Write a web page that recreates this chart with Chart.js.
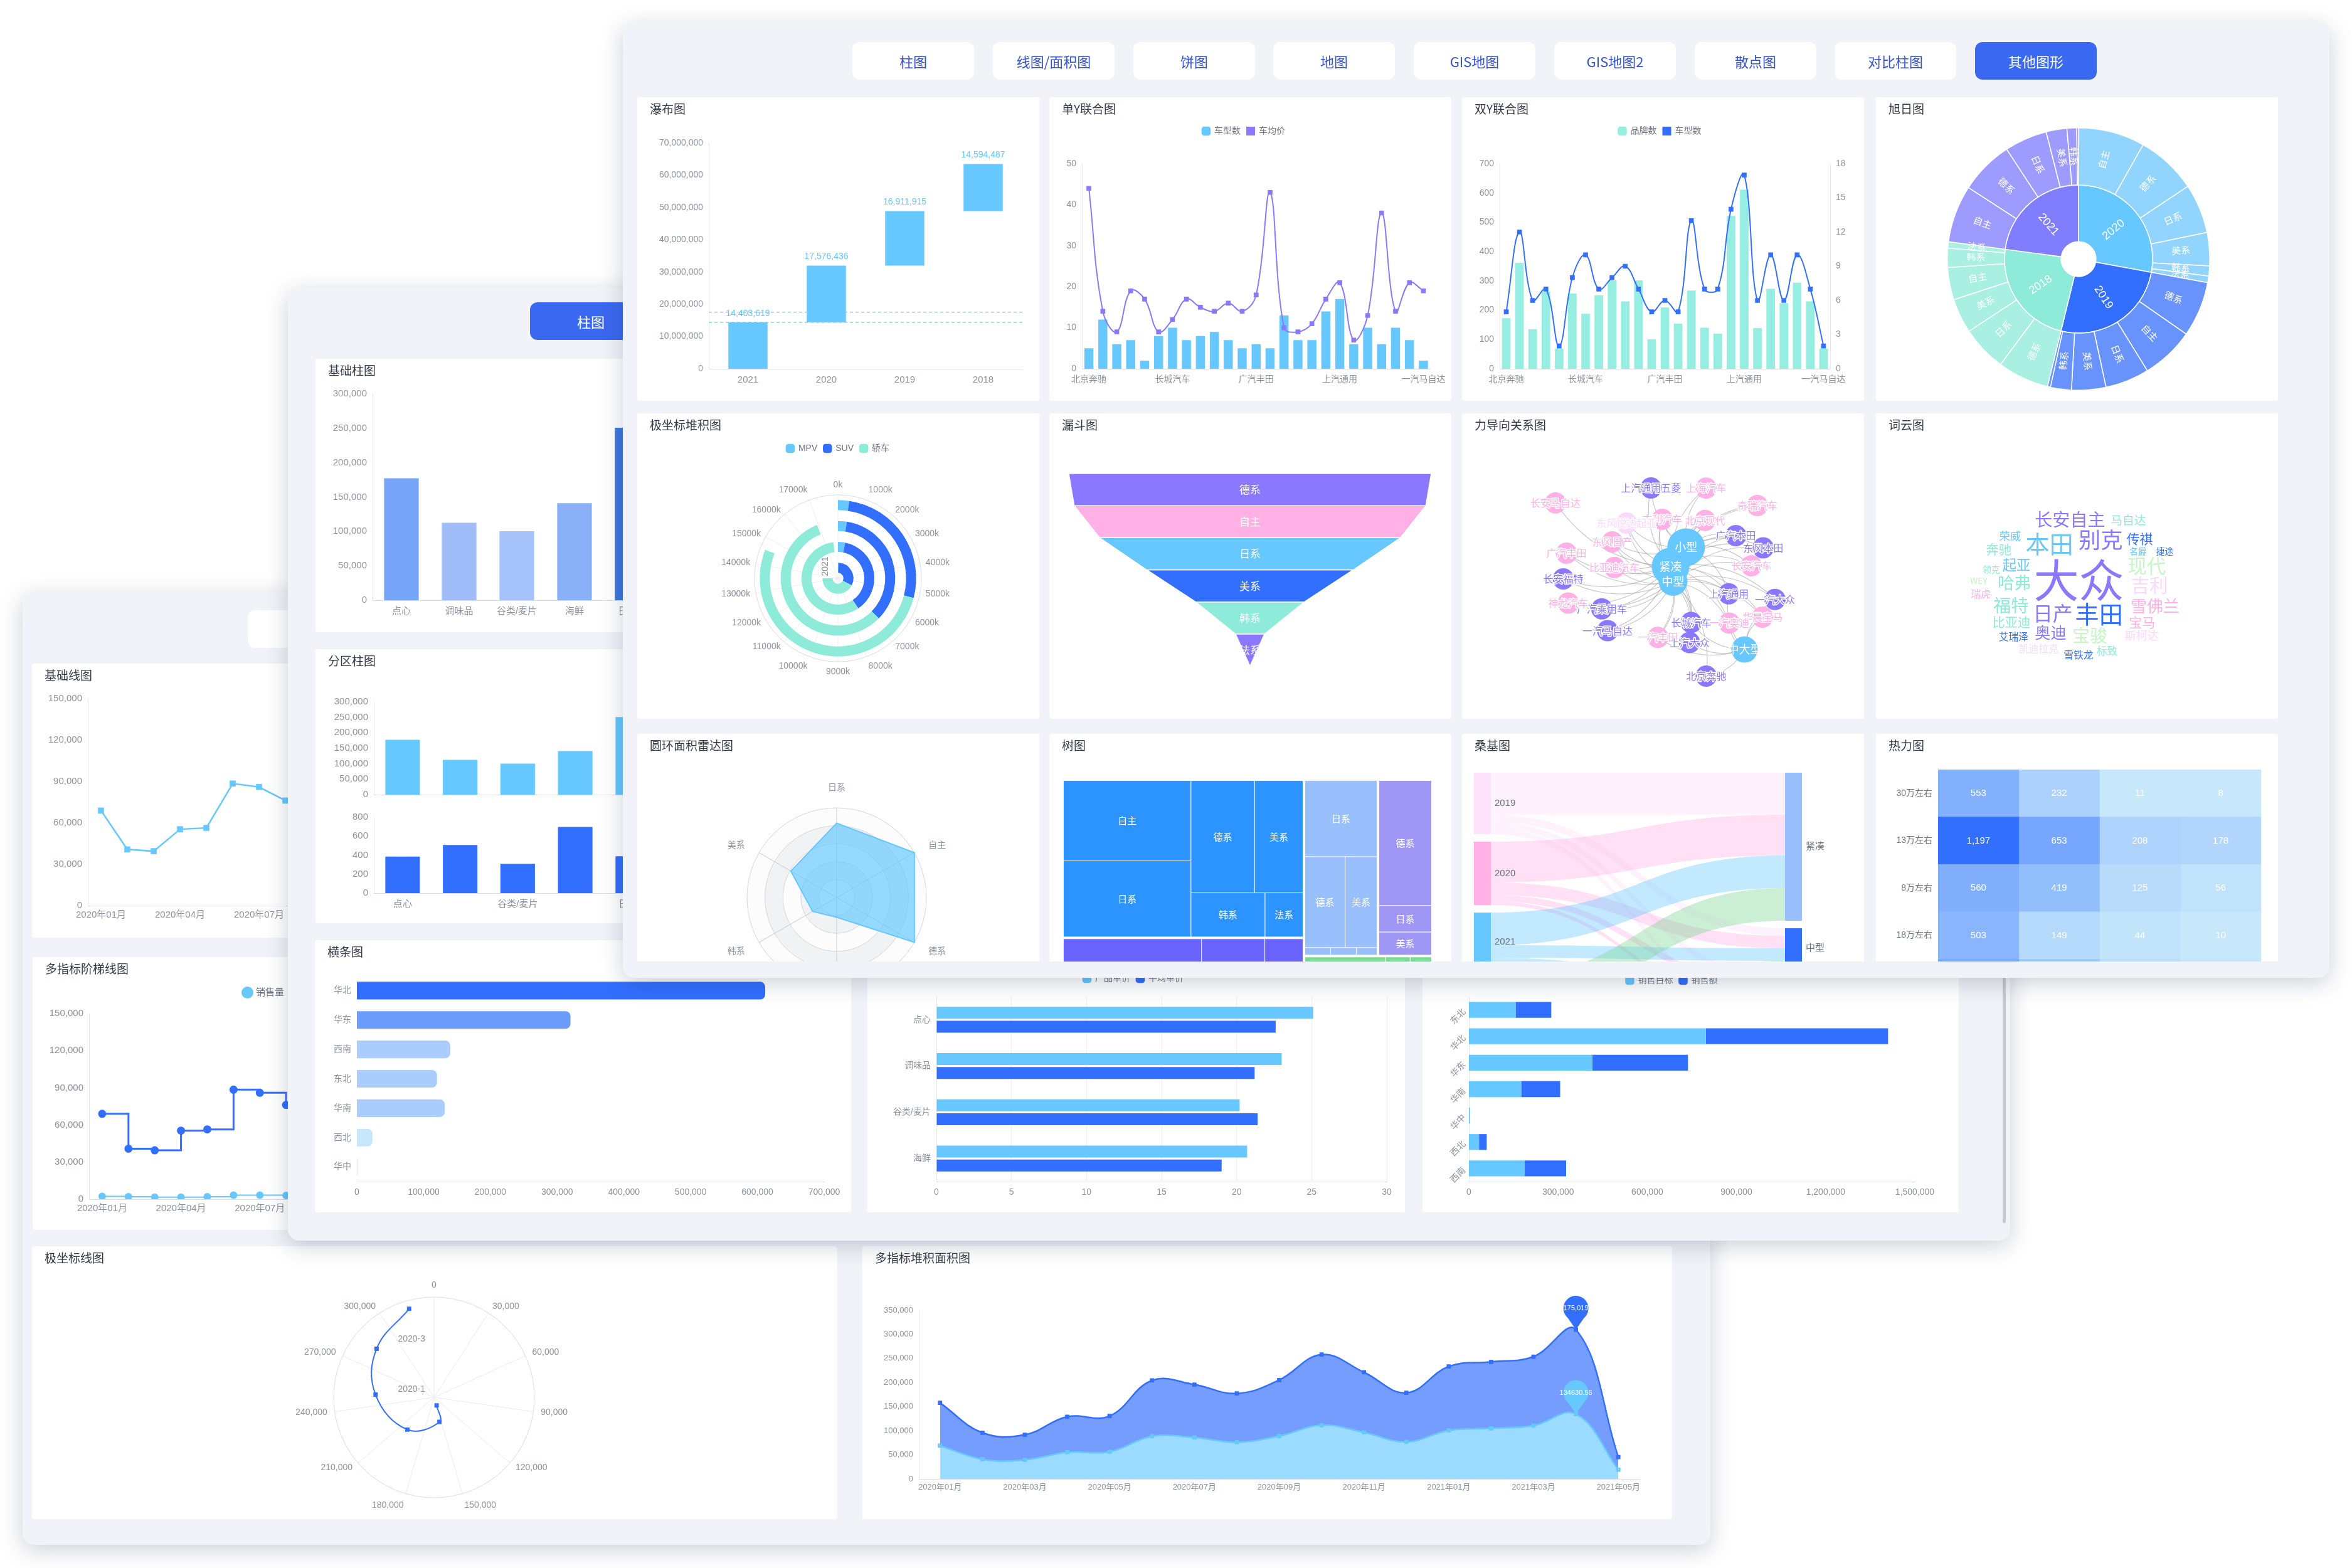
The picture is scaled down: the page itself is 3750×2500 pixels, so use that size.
<!DOCTYPE html>
<html lang="zh-CN">
<head>
<meta charset="utf-8">
<title>图表示例</title>
<script src="https://cdn.jsdelivr.net/npm/chart.js@4.4.1/dist/chart.umd.min.js"></script>
<style>
html,body{margin:0;padding:0}
body{width:3750px;height:2500px;position:relative;overflow:hidden;background:#fff;font-family:'Noto Sans CJK SC','Liberation Sans',sans-serif}
.panel{position:absolute;background:#f1f3f8;border-radius:18px;box-shadow:0 8px 36px rgba(25,35,70,.22);overflow:hidden}
.clip{position:absolute;overflow:hidden}
.card{position:absolute;background:#fff;border-radius:4px;overflow:hidden}
.card .t{position:absolute;left:20px;top:5px;line-height:26px;font-size:19px;color:#343b48;z-index:2}
.tab{position:absolute;background:#fff;border-radius:12px;color:#3553cf;font-size:22px;line-height:60px;text-align:center}
.tab.on{background:#3a68f0;color:#fff}
.sb{position:absolute;background:#c4c8d0;border-radius:3px}
canvas{position:absolute}
</style>
</head>
<body>
<script>
// ---------- data: 其他图形 ----------
const wfCats = ['2021', '2020', '2019', '2018'];
const wfValues = [14403619, 17576436, 16911915, 14594487];

const carBrands = ['北京奔驰', '北京现代', '比亚迪汽车', '东风本田', '东风日产', '东风悦达起亚', '长城汽车', '长安福特', '长安马自达', '长安汽车', '广汽本田', '广汽乘用车', '广汽丰田', '华晨宝马', '吉利汽车', '奇瑞汽车', '上海汽车', '上汽大众', '上汽通用', '上汽通用五菱', '神龙汽车', '一汽奥迪', '一汽大众', '一汽丰田', '一汽马自达'];
const carModels = [5, 12, 6, 7, 2, 8, 10, 7, 8, 9, 7, 5, 6, 5, 13, 7, 7, 14, 17, 6, 10, 6, 10, 7, 2];
const carPrice = [44, 14, 9, 19, 17, 9, 12, 17, 15, 14, 16, 14, 18, 43, 10, 9, 11, 17, 21, 7, 13, 38, 14, 21, 19];
const carBrandCount = [173, 362, 135, 264, 69, 257, 188, 251, 302, 230, 302, 101, 209, 154, 267, 140, 120, 522, 611, 139, 273, 224, 294, 230, 69];

const sunYears = ['2020', '2019', '2018', '2021'];
const sunGroups = [
  ['自主', '德系', '日系', '美系', '韩系', '法系'],
  ['德系', '自主', '日系', '美系', '韩系', '法系'],
  ['德系', '日系', '美系', '自主', '韩系', '法系'],
  ['自主', '德系', '日系', '美系', '韩系', '法系']
];
const sunValues = [
  [295, 269, 219, 147, 45, 29],
  [245, 235, 195, 152, 93, 13],
  [228, 201, 154, 143, 85, 28],
  [254, 238, 189, 92, 43, 8]
];

const polarSeries = ['MPV', 'SUV', '轿车'];
const polarYears = ['2021', '2020', '2019', '2018'];
const polarMPV = [100, 575, 450, 415];
const polarSUV = [5750, 6725, 6275, 4815];
const polarSedan = [7650, 10330, 10205, 9340];
const polarAngleTicks = [0, 1000, 2000, 3000, 4000, 5000, 6000, 7000, 8000, 9000, 10000, 11000, 12000, 13000, 14000, 15000, 16000, 17000];
const polarAngleMax = 18000;

const funnelLabels = ['德系', '自主', '日系', '美系', '韩系', '法系'];
const funnelValues = [100, 97, 83, 57, 30, 8];

const forceHubs = ['小型', '紧凑', '中型', '中大型'];
const forceBrands = ['上海汽车', '吉利汽车', '比亚迪汽车', '上汽通用五菱', '一汽丰田', '长安汽车', '广汽丰田', '广汽乘用车', '广汽本田', '长城汽车', '奇瑞汽车', '上汽通用', '东风日产', '东风本田', '长安福特', '上汽大众', '华晨宝马', '东风悦达起亚', '北京奔驰', '北京现代', '神龙汽车', '一汽奥迪', '长安马自达', '一汽马自达', '一汽大众'];
const forceBrandType = [2, 2, 2, 1, 2, 2, 2, 1, 1, 1, 2, 1, 2, 1, 1, 1, 2, 3, 1, 2, 2, 2, 2, 1, 1];
const forceBrandHubs = [[0, 1], [0, 1, 2], [0, 1, 2], [0, 1], [1, 2, 3], [0, 1, 2], [1, 2], [1, 2], [0, 1, 2], [1, 2, 3], [0, 1], [0, 1, 2, 3], [0, 1, 2], [0, 1, 2], [1, 2], [1, 2, 3], [1, 2, 3], [0, 1, 2], [2, 3], [0, 1, 2], [1, 2], [1, 2, 3], [1], [1, 2], [1, 2, 3]];

const cloudWords = ['大众', '丰田', '本田', '别克', '日产', '现代', '吉利', '宝骏', '福特', '长安自主', '哈弗', '雪佛兰', '奥迪', '起亚', '传祺', '宝马', '比亚迪', '奔驰', '马自达', '斯柯达', '荣威', '标致', '雪铁龙', '凯迪拉克', '艾瑞泽', '瑞虎', '名爵', '领克', '捷途', 'WEY'];
const cloudValues = [100, 53, 53, 49, 44, 42, 41, 39, 39, 39, 37, 36, 35, 31, 29, 29, 28, 28, 26, 25, 24, 23, 22, 22, 22, 22, 19, 19, 19, 19];

const radarLabels = ['日系', '自主', '德系', '法系', '韩系', '美系'];
const radarValues = [83, 100, 100, 22, 31, 59];

const tmGroups = ['2021', '2020', '2019', '2018', '2017'];
const tmChildren = [
  ['自主', '日系', '德系', '美系', '韩系', '法系'],
  ['自主', '德系', '日系'],
  ['日系', '德系', '美系', '韩系', '法系', '自主'],
  ['德系', '日系', '美系'],
  ['自主', '日系', '德系']
];
const tmValues = [
  [264, 250, 184, 140, 84, 43],
  [275, 126, 76],
  [144, 96, 76, 5, 5, 4],
  [174, 37, 32],
  [124, 38, 33]
];

const skSources = ['2019', '2020', '2021', '2022'];
const skTargets = ['紧凑', '中型', '小型', '中大型'];
const skFlows = [
  [67, 12, 10, 9],
  [65, 20, 10, 6],
  [52, 20, 14, 8],
  [52, 12, 6, 0]
];

const heatRows = ['30万左右', '13万左右', '8万左右', '18万左右', '5万左右'];
const heatCols = ['2018', '2019', '2020', '2021'];
const heatValues = [
  [553, 232, 11, 8],
  [1197, 653, 208, 178],
  [560, 419, 125, 56],
  [503, 149, 44, 10],
  [620, 310, 95, 30]
];

// ---------- data: 柱图 ----------
const goodsCats = ['点心', '调味品', '谷类/麦片', '海鲜', '日用品', '肉/家禽', '特制品', '饮料'];
const goodsSales = [177400, 112700, 100400, 141000, 250700, 81000, 105000, 268000];
const goodsOrders = [385, 508, 309, 698, 389, 270, 310, 720];
const regionCats = ['华北', '华东', '西南', '东北', '华南', '西北', '华中'];
const regionSales = [611700, 320000, 140000, 120000, 131700, 23300, 1500];
const priceCats = ['点心', '调味品', '谷类/麦片', '海鲜'];
const priceUnit = [25.1, 23.0, 20.2, 20.7];
const priceAvg = [22.6, 21.2, 21.4, 19.0];
const targetCats = ['东北', '华北', '华东', '华南', '华中', '西北', '西南'];
const targetGoal = [157000, 797000, 415000, 176000, 2000, 34000, 187000];
const targetSales = [120000, 613000, 322000, 131000, 1000, 26000, 140000];

// ---------- data: 线图/面积图 ----------
const months = ['2020年01月', '2020年02月', '2020年03月', '2020年04月', '2020年05月', '2020年06月', '2020年07月', '2020年08月', '2020年09月', '2020年10月', '2020年11月', '2020年12月', '2021年01月', '2021年02月', '2021年03月', '2021年04月', '2021年05月'];
const salesAmount = [69000, 40800, 39500, 55400, 56400, 88500, 86000, 76200, 88900, 111500, 96700, 76800, 100600, 105000, 110600, 134630.56, 19500];
const salesQty = [2300, 2000, 1700, 1700, 2000, 3300, 3300, 3000, 3400, 4100, 3600, 2900, 3800, 3900, 4000, 4800, 800];
const profitAmount = [88900, 55100, 52100, 73700, 74100, 115800, 109800, 101100, 116300, 146500, 124500, 101900, 132700, 137900, 143100, 175019, 26000];
const polarLineValues = [148500, 153600, 201300, 250000, 284400, 315600];
const polarLineTicks = [0, 30000, 60000, 90000, 120000, 150000, 180000, 210000, 240000, 270000, 300000];
const polarLineMax = 330000;
const polarLineRadiusLabels = ['2020-1', '2020-3'];

const tabNames = ['柱图', '线图/面积图', '饼图', '地图', 'GIS地图', 'GIS地图2', '散点图', '对比柱图', '其他图形'];

// ---------- styles ----------
const FONT = "'Liberation Sans','Noto Sans CJK SC',sans-serif";
const CJK = "'Noto Sans CJK SC','Liberation Sans',sans-serif";
const LB = '#66c8ff', BL = '#326ffe', TE = '#8eebd9', PU = '#8a78ff', PK = '#ffb1e6';
const TXT = '#8c929e';
const sunInnerColors = ['#66c8ff', '#326ffe', '#8eebd9', '#807dff'];
const sunOuterColors = ['#91d5fe', '#6893fd', '#a9f0e3', '#9e9bff'];
const funnelColors = [PU, PK, LB, BL, TE, PU];
const cloudColors = [PU, BL, LB, PU, PU, '#c6f6c6', '#fbd9fb', '#c6f6c6', TE, PU, TE, PK, PU, LB, BL, PK, TE, TE, TE, '#fbd9fb', LB, TE, BL, '#fbd9fb', BL, PK, LB, TE, BL, '#c6f6c6'];
const tmColors = ['#2b94ff', '#6a63fb', '#99c0fd', '#9f96f6', '#7ed896'];
const skSrcColors = ['#fde2fa', '#ffb1e6', '#66c8ff', '#7ed896'];
const skTgtColors = ['#99c0fd', '#326ffe', '#9f96f6', '#8eebd9'];
const goodsColors = ['#76a4f9', '#a0bdf9', '#a6c2fa', '#8ab0f8', '#3d77de', '#aec8fb', '#a3c0fa', '#3b72da'];
const regionColors = ['#326ffe', '#6b9bfb', '#abcdfe', '#abcdfe', '#abcdfe', '#c6e6fb', '#e3f1fd'];

Chart.defaults.animation = false;
Chart.defaults.responsive = false;
Chart.defaults.events = [];
Chart.defaults.font.family = FONT;
Chart.defaults.font.size = 14;
Chart.defaults.color = TXT;
Chart.defaults.plugins.legend.display = false;
Chart.defaults.plugins.tooltip.enabled = false;

// ---------- helpers ----------
function merge(a, b) {
  for (const k in b) {
    if (b[k] && typeof b[k] === 'object' && !Array.isArray(b[k]) && a[k] && typeof a[k] === 'object') merge(a[k], b[k]);
    else a[k] = b[k];
  }
  return a;
}
function el(tag, cls, parent, x, y, w, h) {
  const d = document.createElement(tag);
  if (cls) d.className = cls;
  d.style.left = (x - (parent._ox || 0)) + 'px';
  d.style.top = (y - (parent._oy || 0)) + 'px';
  if (w != null) d.style.width = w + 'px';
  if (h != null) d.style.height = h + 'px';
  parent.appendChild(d);
  d._ox = x; d._oy = y;
  return d;
}
function card(parent, r, title) {
  const c = el('div', 'card', parent, r[0], r[1], r[2], r[3]);
  if (title) {
    const t = document.createElement('div');
    t.className = 't'; t.textContent = title;
    c.appendChild(t);
  }
  return c;
}
function chartIn(c, r, config) {
  const cv = document.createElement('canvas');
  cv.width = r[2]; cv.height = r[3];
  cv.style.left = (r[0] - c._ox) + 'px';
  cv.style.top = (r[1] - c._oy) + 'px';
  cv.style.width = r[2] + 'px';
  cv.style.height = r[3] + 'px';
  c.insertBefore(cv, c.firstChild);
  return new Chart(cv, config);
}
// padding so the plot area lands on p = [left, top, right, bottom]
function pads(r, p, yW, yRW, xH, legC) {
  const o = {left: p[0] - r[0] - yW, right: r[0] + r[2] - p[2] - (yRW || 0), bottom: r[1] + r[3] - p[3] - (xH || 0), top: p[1] - r[1]};
  let gap = 0;
  if (legC) { o.top = legC - r[1] - 17; gap = p[1] - r[1] - o.top - 34; }
  return {o, gap};
}
function gapPlugin(g) {
  return {id: 'lgap', beforeInit(chart) {
    const f = chart.legend.fit;
    chart.legend.fit = function () { f.call(this); this.height += g; };
  }};
}
function LEG(more) {
  return merge({display: true, labels: {usePointStyle: true, boxWidth: 12, boxHeight: 12, padding: 10, font: {size: 14}, color: '#6b7280', sort: (a, b) => a.datasetIndex - b.datasetIndex}}, more || {});
}
function xAxis(h, size, more) {
  return merge({grid: {display: false, drawTicks: false}, border: {color: '#d9dce3'}, ticks: {padding: 9, font: {size}, maxRotation: 0, autoSkip: false}, afterFit: s => { s.height = h; }}, more || {});
}
function yAxis(w, size, more) {
  return merge({grid: {display: false, drawTicks: false}, border: {color: '#e3e6eb'}, ticks: {padding: 9, font: {size}, autoSkip: false, callback: v => Number(v).toLocaleString('en-US')}, afterFit: s => { s.width = w; }}, more || {});
}
function yCat(w, size, more) {
  return merge({grid: {display: false, drawTicks: false}, border: {color: '#e3e6eb'}, ticks: {padding: 9, font: {size}, autoSkip: false}, afterFit: s => { s.width = w; }}, more || {});
}
function radialText(ctx, cx, cy, r, th, text) {
  const s = Math.sin(th), co = Math.cos(th);
  ctx.textAlign = s > 0.08 ? 'left' : s < -0.08 ? 'right' : 'center';
  ctx.textBaseline = co > 0.9 ? 'bottom' : co < -0.9 ? 'top' : 'middle';
  ctx.fillText(text, cx + r * s, cy - r * co);
}
function sum(a) { return a.reduce((s, v) => s + v, 0); }
function safe(f) { try { f(); } catch (e) { console.error(e); } }

// treemap squarify with golden-ratio aspect preference
function squarify(items, rect, out) {
  const ratio = 0.5 * (1 + Math.sqrt(5));
  const rest = items.slice();
  let row = [], total = 0, best = Infinity, r = Object.assign({}, rect);
  const worst = (s, len) => {
    let mx = 0, mn = Infinity;
    row.forEach(it => { mx = Math.max(mx, it.area); mn = Math.min(mn, it.area); });
    const f = len * len * ratio;
    return Math.max(f * mx / (s * s), (s * s) / (f * mn));
  };
  const place = () => {
    if (r.w < r.h) {
      const rh = total / r.w; let xx = r.x;
      row.forEach(it => { const w = it.area / rh; out.push({it, x: xx, y: r.y, w, h: rh}); xx += w; });
      r = {x: r.x, y: r.y + rh, w: r.w, h: r.h - rh};
    } else {
      const cw = total / r.h; let yy = r.y;
      row.forEach(it => { const h = it.area / cw; out.push({it, x: r.x, y: yy, w: cw, h}); yy += h; });
      r = {x: r.x + cw, y: r.y, w: r.w - cw, h: r.h};
    }
    row = []; total = 0; best = Infinity;
  };
  while (rest.length) {
    const len = Math.min(r.w, r.h), it = rest[0];
    row.push(it); total += it.area;
    const sc = worst(total, len);
    if (sc <= best) { rest.shift(); best = sc; }
    else { row.pop(); total -= it.area; place(); }
  }
  if (row.length) place();
  return out;
}

// small deterministic force layout (Fruchterman-Reingold)
// the first `tight` nodes barely repel and are tied to each other, so they form one cluster
function forceLayout(n, links, iters, tight) {
  const p = [];
  for (let i = 0; i < n; i++) { const a = i * 2.39996, r = 40 * Math.sqrt(i + 0.5); p.push([r * Math.cos(a), r * Math.sin(a)]); }
  const ties = links.slice();
  for (let i = 0; i < tight; i++) for (let j = i + 1; j < tight; j++) for (let w = 0; w < 6; w++) ties.push([i, j]);
  const k = 70;
  for (let it = 0; it < iters; it++) {
    const d = p.map(() => [0, 0]);
    for (let i = 0; i < n; i++) for (let j = i + 1; j < n; j++) {
      let dx = p[i][0] - p[j][0], dy = p[i][1] - p[j][1];
      const dist = Math.hypot(dx, dy) || 0.01, f = k * k / dist * (i < tight && j < tight ? 0.01 : 1);
      dx /= dist; dy /= dist;
      d[i][0] += dx * f; d[i][1] += dy * f; d[j][0] -= dx * f; d[j][1] -= dy * f;
    }
    ties.forEach(([a, b]) => {
      let dx = p[a][0] - p[b][0], dy = p[a][1] - p[b][1];
      const dist = Math.hypot(dx, dy) || 0.01, f = dist * dist / k;
      dx /= dist; dy /= dist;
      d[a][0] -= dx * f; d[a][1] -= dy * f; d[b][0] += dx * f; d[b][1] += dy * f;
    });
    const t = 20 * (1 - it / iters) + 0.5;
    for (let i = 0; i < n; i++) {
      d[i][0] -= p[i][0] * 0.06; d[i][1] -= p[i][1] * 0.06;
      const m = Math.hypot(d[i][0], d[i][1]) || 0.01, s = Math.min(m, t) / m;
      p[i][0] += d[i][0] * s; p[i][1] += d[i][1] * s;
    }
  }
  return p;
}

// spiral word placement
function cloudLayout(words, sizes) {
  const mctx = document.createElement('canvas').getContext('2d');
  const placed = [], out = [];
  words.forEach((w, i) => {
    mctx.font = sizes[i].toFixed(1) + 'px ' + CJK;
    const tw = mctx.measureText(w).width, th = sizes[i] * 0.96;
    for (let t = 0; t < 400; t += 0.06) {
      const r = 2.3 * t, x = r * Math.cos(t) * 1.3, y = r * Math.sin(t);
      const b = [x - tw / 2 - 2, y - th / 2 - 1, x + tw / 2 + 2, y + th / 2 + 1];
      if (!placed.some(q => b[0] < q[2] && b[2] > q[0] && b[1] < q[3] && b[3] > q[1])) { placed.push(b); out.push([x, y]); return; }
    }
    out.push([0, 0]);
  });
  return out;
}
function heatColor(v, max) {
  const t = v / max, a = [200, 232, 251], b = [50, 111, 254];
  return 'rgb(' + a.map((c, i) => Math.round(c + (b[i] - c) * t)).join(',') + ')';
}

// ---------- plugins ----------
const wfPlugin = {id: 'wf',
  beforeDatasetsDraw(ch) {
    const {ctx, chartArea: a, scales: {y}} = ch;
    ctx.save(); ctx.strokeStyle = LB; ctx.lineWidth = 1.2; ctx.setLineDash([5, 4]);
    [Math.min(...wfValues), Math.max(...wfValues)].forEach(v => {
      const py = y.getPixelForValue(v);
      ctx.beginPath(); ctx.moveTo(a.left, py); ctx.lineTo(a.right, py); ctx.stroke();
    });
    ctx.restore();
  },
  afterDatasetsDraw(ch) {
    const ctx = ch.ctx;
    ctx.save(); ctx.fillStyle = LB; ctx.font = '14px ' + FONT; ctx.textAlign = 'center'; ctx.textBaseline = 'bottom';
    ch.getDatasetMeta(0).data.forEach((b, i) => ctx.fillText(wfValues[i].toLocaleString('en-US'), b.x, b.y - 7));
    ctx.restore();
  }
};
const sunPlugin = {id: 'sun', afterDatasetsDraw(ch) {
  const ctx = ch.ctx;
  ctx.save(); ctx.fillStyle = '#fff'; ctx.textAlign = 'center'; ctx.textBaseline = 'middle';
  ch.data.datasets.forEach((ds, d) => {
    ctx.font = (d === 1 ? 18 : 15) + 'px ' + FONT;
    ch.getDatasetMeta(d).data.forEach((arc, i) => {
      if (arc.endAngle - arc.startAngle < 0.035) return;
      const a = (arc.startAngle + arc.endAngle) / 2, r = (arc.innerRadius + arc.outerRadius) / 2;
      ctx.save();
      ctx.translate(arc.x + r * Math.cos(a), arc.y + r * Math.sin(a));
      ctx.rotate(Math.cos(a) < 0 ? a + Math.PI : a);
      ctx.fillText(ds.names[i], 0, 0);
      ctx.restore();
    });
  });
  ctx.restore();
}};
const polarStackPlugin = {id: 'pstack',
  beforeDatasetsDraw(ch) {
    const a = ch.getDatasetMeta(0).data[0], ctx = ch.ctx, cx = a.x, cy = a.y, R = a.outerRadius;
    ctx.save(); ctx.strokeStyle = '#efefef'; ctx.lineWidth = 1;
    polarAngleTicks.forEach(t => {
      const th = t / polarAngleMax * 2 * Math.PI;
      ctx.beginPath(); ctx.moveTo(cx, cy); ctx.lineTo(cx + R * Math.sin(th), cy - R * Math.cos(th)); ctx.stroke();
    });
    ctx.strokeStyle = '#dcdcdc'; ctx.beginPath(); ctx.arc(cx, cy, R, 0, 2 * Math.PI); ctx.stroke();
    ctx.restore();
  },
  afterDatasetsDraw(ch) {
    const a = ch.getDatasetMeta(0).data[0], ctx = ch.ctx, cx = a.x, cy = a.y, R = a.outerRadius;
    ctx.save(); ctx.fillStyle = TXT; ctx.font = '14px ' + FONT;
    polarAngleTicks.forEach(t => radialText(ctx, cx, cy, R + 9, t / polarAngleMax * 2 * Math.PI, t + 'k'));
    ctx.translate(cx - 20, cy - 19); ctx.rotate(-Math.PI / 2);
    ctx.textAlign = 'center'; ctx.textBaseline = 'middle';
    ctx.fillText(polarYears[0], 0, 0);
    ctx.restore();
  }
};
const funnelPlugin = {id: 'funnel', afterDatasetsDraw(ch) {
  const {ctx, scales: {x, y}} = ch;
  ctx.save(); ctx.fillStyle = '#fff'; ctx.font = '17px ' + CJK; ctx.textAlign = 'center'; ctx.textBaseline = 'middle';
  funnelLabels.forEach((l, i) => ctx.fillText(l, x.getPixelForValue(0), y.getPixelForValue(i + 0.5)));
  ctx.restore();
}};
function forcePlugin(links, names) {
  return {id: 'force',
    beforeDatasetsDraw(ch) {
      const ctx = ch.ctx, pts = ch.getDatasetMeta(0).data;
      ctx.save(); ctx.strokeStyle = 'rgba(150,150,150,0.55)'; ctx.lineWidth = 1.1;
      links.forEach(([a, b]) => {
        const p = pts[a], q = pts[b], mx = (p.x + q.x) / 2, my = (p.y + q.y) / 2, dx = q.x - p.x, dy = q.y - p.y;
        ctx.beginPath(); ctx.moveTo(p.x, p.y); ctx.quadraticCurveTo(mx - dy * 0.25, my + dx * 0.25, q.x, q.y); ctx.stroke();
      });
      ctx.restore();
    },
    afterDatasetsDraw(ch) {
      const ctx = ch.ctx, pts = ch.getDatasetMeta(0).data, cols = ch.data.datasets[0].backgroundColor;
      ctx.save(); ctx.textAlign = 'center'; ctx.textBaseline = 'middle'; ctx.lineJoin = 'round';
      pts.forEach((p, i) => {
        if (i < forceHubs.length) { ctx.font = '18px ' + CJK; ctx.fillStyle = '#fff'; ctx.fillText(names[i], p.x, p.y); return; }
        ctx.font = '16px ' + CJK;
        ctx.strokeStyle = '#fff'; ctx.lineWidth = 3; ctx.strokeText(names[i], p.x, p.y);
        ctx.fillStyle = cols[i]; ctx.fillText(names[i], p.x, p.y);
      });
      ctx.restore();
    }
  };
}
function cloudPlugin(sizes) {
  return {id: 'cloud', afterDatasetsDraw(ch) {
    const ctx = ch.ctx, pts = ch.getDatasetMeta(0).data;
    ctx.save(); ctx.textAlign = 'center'; ctx.textBaseline = 'middle';
    pts.forEach((p, i) => {
      ctx.font = sizes[i].toFixed(1) + 'px ' + CJK;
      ctx.fillStyle = cloudColors[i];
      ctx.fillText(cloudWords[i], p.x, p.y);
    });
    ctx.restore();
  }};
}
const radarPlugin = {id: 'radarBands',
  beforeDraw(ch) {
    const s = ch.scales.r, ctx = ch.ctx;
    ctx.save();
    for (let i = 5; i >= 1; i--) {
      ctx.beginPath(); ctx.arc(s.xCenter, s.yCenter, s.drawingArea * i / 5, 0, 2 * Math.PI);
      ctx.fillStyle = i % 2 ? '#fcfcfd' : '#f1f2f4'; ctx.fill();
    }
    ctx.restore();
  },
  afterDraw(ch) {
    const s = ch.scales.r, ctx = ch.ctx;
    ctx.save(); ctx.fillStyle = TXT; ctx.font = '14px ' + CJK;
    radarLabels.forEach((l, i) => radialText(ctx, s.xCenter, s.yCenter, s.drawingArea + 26, i / radarLabels.length * 2 * Math.PI, l));
    ctx.restore();
  }
};
const treemapPlugin = {id: 'treemap', afterDatasetsDraw(ch) {
  const {ctx, chartArea: a, scales: {x, y}} = ch;
  const W = a.right - a.left, H = a.bottom - a.top;
  const all = sum(tmValues.map(sum));
  const groups = tmValues.map((v, gi) => ({gi, area: sum(v) / all * W * H})).sort((p, q) => q.area - p.area);
  const px = u => x.getPixelForValue(u / W), py = v => y.getPixelForValue(v / H);
  ctx.save(); ctx.font = '15px ' + CJK; ctx.textAlign = 'center'; ctx.textBaseline = 'middle';
  squarify(groups, {x: 0, y: 0, w: W, h: H}, []).forEach(g => {
    const gi = g.it.gi, inner = {x: g.x + 1.5, y: g.y + 1.5, w: g.w - 3, h: g.h - 3};
    const tot = sum(tmValues[gi]);
    const kids = tmValues[gi].map((v, ci) => ({ci, area: v / tot * inner.w * inner.h})).sort((p, q) => q.area - p.area);
    squarify(kids, inner, []).forEach(k => {
      const x0 = px(k.x), y0 = py(k.y), x1 = px(k.x + k.w), y1 = py(k.y + k.h);
      ctx.fillStyle = tmColors[gi]; ctx.fillRect(x0, y0, x1 - x0, y1 - y0);
      ctx.strokeStyle = 'rgba(255,255,255,0.85)'; ctx.lineWidth = 1; ctx.strokeRect(x0, y0, x1 - x0, y1 - y0);
      if (x1 - x0 > 34 && y1 - y0 > 22) { ctx.fillStyle = '#fff'; ctx.fillText(tmChildren[gi][k.it.ci], (x0 + x1) / 2, (y0 + y1) / 2); }
    });
  });
  ctx.restore();
}};
const sankeyPlugin = {id: 'sankey', afterDatasetsDraw(ch) {
  const {ctx, scales: {x, y}} = ch;
  const X0 = x.getPixelForValue(0), X1 = x.getPixelForValue(1), Y0 = y.getPixelForValue(0), Y1 = y.getPixelForValue(1);
  const nw = 27, gap = 12;
  const srcTot = skFlows.map(sum), tgtTot = skTargets.map((_, j) => sum(skFlows.map(r => r[j])));
  const k = (Y1 - Y0 - gap * (Math.max(skSources.length, skTargets.length) - 1)) / Math.max(sum(srcTot), sum(tgtTot));
  let yy = Y0; const sy = srcTot.map(t => { const v = yy; yy += t * k + gap; return v; });
  yy = Y0; const ty = tgtTot.map(t => { const v = yy; yy += t * k + gap; return v; });
  const so = sy.slice(), to = ty.slice(), xa = X0 + nw, xb = X1 - nw, xm = (xa + xb) / 2;
  ctx.save(); ctx.globalAlpha = 0.4;
  skFlows.forEach((row, i) => row.forEach((f, j) => {
    if (!f) return;
    const h = f * k, s0 = so[i], t0 = to[j];
    so[i] += h; to[j] += h;
    ctx.fillStyle = skSrcColors[i];
    ctx.beginPath(); ctx.moveTo(xa, s0);
    ctx.bezierCurveTo(xm, s0, xm, t0, xb, t0); ctx.lineTo(xb, t0 + h);
    ctx.bezierCurveTo(xm, t0 + h, xm, s0 + h, xa, s0 + h); ctx.closePath(); ctx.fill();
  }));
  ctx.globalAlpha = 1; ctx.font = '15px ' + FONT; ctx.textAlign = 'left'; ctx.textBaseline = 'middle';
  srcTot.forEach((t, i) => { ctx.fillStyle = skSrcColors[i]; ctx.fillRect(X0, sy[i], nw, t * k); ctx.fillStyle = '#6b7280'; ctx.fillText(skSources[i], X0 + nw + 6, sy[i] + t * k / 2); });
  tgtTot.forEach((t, j) => { ctx.fillStyle = skTgtColors[j]; ctx.fillRect(xb, ty[j], nw, t * k); ctx.fillStyle = '#6b7280'; ctx.fillText(skTargets[j], X1 + 6, ty[j] + t * k / 2); });
  ctx.restore();
}};
function heatPlugin() {
  return {id: 'heat', afterDatasetsDraw(ch) {
    const ctx = ch.ctx;
    ctx.save(); ctx.fillStyle = '#fff'; ctx.font = '15px ' + FONT; ctx.textAlign = 'center'; ctx.textBaseline = 'middle';
    heatCols.forEach((_, j) => ch.getDatasetMeta(j).data.forEach((b, i) => ctx.fillText(heatValues[i][j].toLocaleString('en-US'), (b.x + b.base) / 2, b.y)));
    ctx.restore();
  }};
}
const rotLabelPlugin = {id: 'rot', afterDraw(ch) {
  const {ctx, scales: {y}, chartArea: a} = ch;
  ctx.save(); ctx.fillStyle = TXT; ctx.font = '14px ' + CJK; ctx.textAlign = 'right'; ctx.textBaseline = 'middle';
  targetCats.forEach((t, i) => {
    ctx.save(); ctx.translate(a.left - 8, y.getPixelForValue(i)); ctx.rotate(-Math.PI / 4); ctx.fillText(t, 0, 0); ctx.restore();
  });
  ctx.restore();
}};
const polarLinePlugin = {id: 'pline', beforeDatasetsDraw(ch) {
  const {ctx, scales: {x, y}} = ch;
  const bands = polarLineValues.length;
  const cx = x.getPixelForValue(0), cy = y.getPixelForValue(0), R = x.getPixelForValue(bands) - cx;
  ctx.save(); ctx.strokeStyle = '#ececec'; ctx.lineWidth = 1;
  polarLineTicks.forEach(t => {
    const th = t / polarLineMax * 2 * Math.PI;
    ctx.beginPath(); ctx.moveTo(cx, cy); ctx.lineTo(cx + R * Math.sin(th), cy - R * Math.cos(th)); ctx.stroke();
  });
  ctx.strokeStyle = '#dcdcdc'; ctx.beginPath(); ctx.arc(cx, cy, R, 0, 2 * Math.PI); ctx.stroke();
  ctx.fillStyle = TXT; ctx.font = '14px ' + FONT;
  polarLineTicks.forEach(t => radialText(ctx, cx, cy, R + 12, t / polarLineMax * 2 * Math.PI, t.toLocaleString('en-US')));
  ctx.textAlign = 'right'; ctx.textBaseline = 'middle';
  [0, 3].forEach((b, i) => ctx.fillText(polarLineRadiusLabels[i], cx - 14, cy - (b + 0.5) * R / bands));
  ctx.restore();
}};
const pinPlugin = {id: 'pins', afterDatasetsDraw(ch) {
  const ctx = ch.ctx;
  const marks = [
    [1, BL, profitAmount.indexOf(Math.max(...profitAmount)), v => v.toLocaleString('en-US'), profitAmount],
    [0, LB, salesAmount.indexOf(Math.max(...salesAmount)), v => String(v), salesAmount]
  ];
  ctx.save(); ctx.textAlign = 'center'; ctx.textBaseline = 'middle';
  marks.forEach(([d, col, i, fmt, arr]) => {
    const p = ch.getDatasetMeta(d).data[i];
    ctx.fillStyle = col; ctx.beginPath();
    ctx.arc(p.x, p.y - 34, 20, Math.PI * 0.72, Math.PI * 0.28, false); ctx.lineTo(p.x, p.y); ctx.closePath(); ctx.fill();
    ctx.fillStyle = '#fff'; ctx.font = '11px ' + FONT; ctx.fillText(fmt(arr[i]), p.x, p.y - 34);
  });
  ctx.restore();
}};

// ---------- panels ----------
function tabs(p, x0, y0, active) {
  tabNames.forEach((t, i) => {
    const d = el('div', 'tab' + (i === active ? ' on' : ''), p, x0 + Math.round(i * 223.75), y0, 194, 60);
    d.textContent = t;
  });
}
const pA = el('div', 'panel', document.body, 36, 945, 2691, 1518);
const pB = el('div', 'panel', document.body, 459, 459, 2746, 1519);
const pC = el('div', 'panel', document.body, 993, 36, 2721, 1523);
pA.style.zIndex = 1; pB.style.zIndex = 2; pC.style.zIndex = 3;
tabs(pA, 36 + 359, 945 + 28, 1);
tabs(pB, 459 + 386, 459 + 23, 0);
tabs(pC, 993 + 366, 36 + 31, 8);
const bodyC = el('div', 'clip', pC, 993, 36, 2721, 1497);
el('div', 'sb', pB, 3193, 1532, 5, 418);

// ---------- 其他图形 ----------
safe(() => {
  const R = [1016, 155, 641, 484], c = card(bodyC, R, '瀑布图');
  let acc = 0;
  const bars = wfValues.map(v => { const b = [acc, acc + v]; acc += v; return b; });
  chartIn(c, R, {type: 'bar',
    data: {labels: wfCats, datasets: [{data: bars, backgroundColor: LB, barPercentage: 0.5, categoryPercentage: 1}]},
    options: {layout: {padding: pads(R, [1130, 228, 1630, 588], 100, 0, 36).o},
      scales: {x: xAxis(36, 15), y: yAxis(100, 14, {min: 0, max: 70000000, ticks: {stepSize: 10000000}})}},
    plugins: [wfPlugin]});
});

safe(() => {
  const R = [1673, 155, 641, 484], c = card(bodyC, R, '单Y联合图');
  const P = pads(R, [1725, 261, 2286, 588], 45, 0, 36, 209);
  chartIn(c, R, {type: 'bar',
    data: {labels: carBrands, datasets: [
      {type: 'bar', label: '车型数', data: carModels, backgroundColor: LB, barPercentage: 0.65, categoryPercentage: 1, pointStyle: 'rectRounded', order: 2},
      {type: 'line', label: '车均价', data: carPrice, borderColor: PU, backgroundColor: PU, borderWidth: 2, tension: 0.4, pointStyle: 'rect', pointRadius: 4, order: 1}]},
    options: {layout: {padding: P.o}, plugins: {legend: LEG()},
      scales: {x: xAxis(36, 14, {ticks: {callback: (v, i) => i % 6 === 0 ? carBrands[i] : ''}}), y: yAxis(45, 14, {min: 0, max: 50, ticks: {stepSize: 10}})}},
    plugins: [gapPlugin(P.gap)]});
});

safe(() => {
  const R = [2331, 155, 641, 484], c = card(bodyC, R, '双Y联合图');
  const P = pads(R, [2391, 261, 2918, 588], 52, 36, 36, 209);
  chartIn(c, R, {type: 'bar',
    data: {labels: carBrands, datasets: [
      {type: 'bar', label: '品牌数', data: carBrandCount, backgroundColor: '#96eee2', barPercentage: 0.65, categoryPercentage: 1, pointStyle: 'rectRounded', order: 2},
      {type: 'line', label: '车型数', data: carModels, yAxisID: 'y1', borderColor: BL, backgroundColor: BL, borderWidth: 2, tension: 0.4, pointStyle: 'rect', pointRadius: 4, order: 1}]},
    options: {layout: {padding: P.o}, plugins: {legend: LEG()},
      scales: {x: xAxis(36, 14, {ticks: {callback: (v, i) => i % 6 === 0 ? carBrands[i] : ''}}),
        y: yAxis(52, 14, {min: 0, max: 700, ticks: {stepSize: 100}}),
        y1: yAxis(36, 14, {position: 'right', min: 0, max: 18, ticks: {stepSize: 3}})}},
    plugins: [gapPlugin(P.gap)]});
});

safe(() => {
  const R = [2991, 155, 641, 484], c = card(bodyC, R, '旭日图');
  const outerNames = sunGroups.flat(), outerVals = sunValues.flat();
  const outerCols = sunValues.flatMap((g, i) => g.map(() => sunOuterColors[i]));
  chartIn(c, R, {type: 'doughnut',
    data: {labels: outerNames, datasets: [
      {data: outerVals, names: outerNames, backgroundColor: outerCols, borderColor: '#fff', borderWidth: 1.5, weight: 435, hoverOffset: 0},
      {data: sunValues.map(sum), names: sunYears, backgroundColor: sunInnerColors, borderColor: '#fff', borderWidth: 1.5, weight: 431, hoverOffset: 0}]},
    options: {cutout: '13.3%', layout: {padding: pads(R, [3104, 203, 3524, 623], 0, 0, 0).o}},
    plugins: [sunPlugin]});
});

safe(() => {
  const R = [1016, 659, 641, 487], c = card(bodyC, R, '极坐标堆积图');
  const P = pads(R, [1203, 789, 1469, 1055], 0, 0, 0, 715);
  const none = 'rgba(0,0,0,0)', cols = [LB, BL, TE];
  const ds = [{data: [1], backgroundColor: none, borderWidth: 0, weight: 8.3, hoverOffset: 0}];
  for (let k = polarYears.length - 1; k >= 0; k--) {
    const tot = polarMPV[k] + polarSUV[k] + polarSedan[k];
    ds.push({data: [polarMPV[k], polarSUV[k], polarSedan[k], polarAngleMax - tot], backgroundColor: [...cols, none], borderWidth: 0, weight: 16, hoverOffset: 0});
    if (k > 0) ds.push({data: [1], backgroundColor: none, borderWidth: 0, weight: 17.25, hoverOffset: 0});
  }
  chartIn(c, R, {type: 'doughnut',
    data: {labels: [...polarSeries, ''], datasets: ds},
    options: {cutout: '6.5%', layout: {padding: P.o},
      plugins: {legend: LEG({labels: {generateLabels: () => polarSeries.map((s, i) => ({text: s, fillStyle: cols[i], strokeStyle: cols[i], lineWidth: 0, pointStyle: 'rectRounded', hidden: false, datasetIndex: i, fontColor: '#6b7280'}))}})}},
    plugins: [gapPlugin(P.gap), polarStackPlugin]});
});

safe(() => {
  const R = [1673, 659, 641, 487], c = card(bodyC, R, '漏斗图');
  const ds = funnelValues.map((v, i) => {
    const nv = i + 1 < funnelValues.length ? funnelValues[i + 1] : 0;
    return {data: [{x: -v / 2, y: i}, {x: v / 2, y: i}, {x: nv / 2, y: i + 1}, {x: -nv / 2, y: i + 1}, {x: -v / 2, y: i}],
      fill: 'shape', backgroundColor: funnelColors[i], borderColor: '#fff', borderWidth: 1.5, pointRadius: 0, tension: 0};
  });
  chartIn(c, R, {type: 'line', data: {datasets: ds},
    options: {layout: {padding: pads(R, [1704, 755, 2282, 1062], 0, 0, 0).o},
      scales: {x: {type: 'linear', min: -50, max: 50, display: false}, y: {type: 'linear', min: 0, max: funnelValues.length, reverse: true, display: false}}},
    plugins: [funnelPlugin]});
});

safe(() => {
  const R = [2331, 659, 641, 487], c = card(bodyC, R, '力导向关系图');
  const names = forceHubs.concat(forceBrands);
  const links = [];
  forceBrandHubs.forEach((hs, b) => hs.forEach(h => links.push([forceHubs.length + b, h])));
  const pos = forceLayout(names.length, links, 600, 3);
  // orient the layout so the lone hub (中大型) sits right of centre and a little low
  const mx = sum(pos.map(p => p[0])) / pos.length, my = sum(pos.map(p => p[1])) / pos.length;
  const fx = pos[3][0] < mx ? -1 : 1, fy = pos[3][1] > my ? -1 : 1;
  const pts = pos.map(p => ({x: p[0] * fx, y: p[1] * fy}));
  const xs = pts.map(p => p.x), ys = pts.map(p => p.y);
  const cols = forceHubs.map(() => LB).concat(forceBrandType.map(t => [LB, PU, PK, '#fbd9fb'][t]));
  const radii = [30, 30, 23, 21].concat(forceBrands.map(() => 17));
  chartIn(c, R, {type: 'scatter',
    data: {datasets: [{data: pts, backgroundColor: cols, pointRadius: radii, borderWidth: 0, clip: false}]},
    options: {layout: {padding: pads(R, [2480, 778, 2830, 1078], 0, 0, 0).o},
      scales: {x: {min: Math.min(...xs), max: Math.max(...xs), display: false}, y: {min: Math.min(...ys), max: Math.max(...ys), display: false}}},
    plugins: [forcePlugin(links, names)]});
});

safe(() => {
  const R = [2991, 659, 641, 487], c = card(bodyC, R, '词云图');
  const sizes = cloudValues.map(v => v * 0.72);
  const pos = cloudLayout(cloudWords, sizes);
  chartIn(c, R, {type: 'scatter',
    data: {datasets: [{data: pos.map(p => ({x: p[0] + 3, y: p[1] + 22})), pointRadius: 0}]},
    options: {layout: {padding: 0},
      scales: {x: {min: -R[2] / 2, max: R[2] / 2, display: false}, y: {min: -R[3] / 2, max: R[3] / 2, reverse: true, display: false}}},
    plugins: [cloudPlugin(sizes)]});
});

safe(() => {
  const R = [1016, 1170, 641, 484], c = card(bodyC, R, '圆环面积雷达图');
  chartIn(c, R, {type: 'radar',
    data: {labels: radarLabels, datasets: [{data: radarValues, backgroundColor: 'rgba(102,200,255,0.68)', borderColor: LB, borderWidth: 2, pointRadius: 0}]},
    options: {layout: {padding: pads(R, [1191, 1288, 1477, 1574], 0, 0, 0).o},
      scales: {r: {min: 0, max: 100, ticks: {display: false, stepSize: 20}, grid: {circular: true, color: '#d6d6d6'}, angleLines: {color: '#c9c9c9'}, pointLabels: {display: false}}}},
    plugins: [radarPlugin]});
});

safe(() => {
  const R = [1673, 1170, 641, 484], c = card(bodyC, R, '树图');
  chartIn(c, R, {type: 'scatter', data: {datasets: [{data: []}]},
    options: {layout: {padding: pads(R, [1694, 1243, 2284, 1620], 0, 0, 0).o},
      scales: {x: {min: 0, max: 1, display: false}, y: {min: 0, max: 1, reverse: true, display: false}}},
    plugins: [treemapPlugin]});
});

safe(() => {
  const R = [2331, 1170, 641, 484], c = card(bodyC, R, '桑基图');
  chartIn(c, R, {type: 'scatter', data: {datasets: [{data: []}]},
    options: {layout: {padding: pads(R, [2350, 1232, 2873, 1631], 0, 0, 0).o},
      scales: {x: {min: 0, max: 1, display: false}, y: {min: 0, max: 1, reverse: true, display: false}}},
    plugins: [sankeyPlugin]});
});

safe(() => {
  const R = [2991, 1170, 641, 484], c = card(bodyC, R, '热力图');
  const mx = Math.max(...heatValues.flat());
  const ds = heatCols.map((col, j) => ({label: col, data: heatRows.map(() => [j, j + 1]),
    backgroundColor: heatRows.map((_, i) => heatColor(heatValues[i][j], mx)), barPercentage: 1, categoryPercentage: 1, borderWidth: 0, grouped: false}));
  chartIn(c, R, {type: 'bar', data: {labels: heatRows, datasets: ds},
    options: {indexAxis: 'y', layout: {padding: pads(R, [3090, 1227, 3605, 1605], 80, 0, 0).o},
      scales: {x: {min: 0, max: heatCols.length, display: false},
        y: yCat(80, 14, {border: {display: false}, ticks: {color: '#6b7280'}})}},
    plugins: [heatPlugin()]});
});

// ---------- 柱图 ----------
safe(() => {
  const R = [503, 572, 854, 436], c = card(pB, R, '基础柱图');
  chartIn(c, R, {type: 'bar',
    data: {labels: goodsCats, datasets: [{data: goodsSales, backgroundColor: goodsColors, barPercentage: 0.6, categoryPercentage: 1}]},
    options: {layout: {padding: pads(R, [594, 628, 1330, 957], 80, 0, 36).o},
      scales: {x: xAxis(36, 15), y: yAxis(80, 15, {min: 0, max: 300000, ticks: {stepSize: 50000}})}}});
});

safe(() => {
  const R = [503, 1035, 854, 437], c = card(pB, R, '分区柱图');
  const RT = [503, 1085, 854, 200], RB = [503, 1285, 854, 187];
  chartIn(c, RT, {type: 'bar',
    data: {labels: goodsCats, datasets: [{data: goodsSales, backgroundColor: LB, barPercentage: 0.6, categoryPercentage: 1}]},
    options: {layout: {padding: pads(RT, [596, 1119, 1330, 1271], 82, 0, 0).o},
      scales: {x: xAxis(0, 15, {ticks: {display: false}}), y: yAxis(82, 15, {min: 0, max: 300000, ticks: {stepSize: 50000}})}}});
  chartIn(c, RB, {type: 'bar',
    data: {labels: goodsCats, datasets: [{data: goodsOrders, backgroundColor: BL, barPercentage: 0.6, categoryPercentage: 1}]},
    options: {layout: {padding: pads(RB, [596, 1301, 1330, 1424], 82, 0, 36).o},
      scales: {x: xAxis(36, 15, {ticks: {callback: (v, i) => i % 2 === 0 ? goodsCats[i] : ''}}), y: yAxis(82, 15, {min: 0, max: 800, ticks: {stepSize: 200}})}}});
});

safe(() => {
  const R = [502, 1499, 855, 434], c = card(pB, R, '横条图');
  chartIn(c, R, {type: 'bar',
    data: {labels: regionCats, datasets: [{data: regionSales, backgroundColor: regionColors, barPercentage: 0.6, categoryPercentage: 1, borderRadius: 8}]},
    options: {indexAxis: 'y', layout: {padding: pads(R, [569, 1556, 1314, 1884], 50, 0, 36).o},
      scales: {x: xAxis(36, 14, {min: 0, max: 700000, ticks: {stepSize: 100000, callback: v => Number(v).toLocaleString('en-US')}}),
        y: yCat(50, 14, {border: {display: false}})}}});
});

safe(() => {
  const R = [1383, 1499, 857, 434], c = card(pB, R, '分组横条图');
  const P = pads(R, [1493, 1589, 2211, 1884], 90, 0, 36, 1560);
  chartIn(c, R, {type: 'bar',
    data: {labels: priceCats, datasets: [
      {label: '产品单价', data: priceUnit, backgroundColor: LB, barPercentage: 0.86, categoryPercentage: 0.6, pointStyle: 'rectRounded'},
      {label: '平均单价', data: priceAvg, backgroundColor: BL, barPercentage: 0.86, categoryPercentage: 0.6, pointStyle: 'rectRounded'}]},
    options: {indexAxis: 'y', layout: {padding: P.o}, plugins: {legend: LEG()},
      scales: {x: xAxis(36, 14, {min: 0, max: 30, grid: {display: true, color: '#efefef'}, ticks: {stepSize: 5}}),
        y: yCat(90, 14)}},
    plugins: [gapPlugin(P.gap)]});
});

safe(() => {
  const R = [2268, 1499, 855, 434], c = card(pB, R, '堆积横条图');
  const P = pads(R, [2342, 1589, 3053, 1884], 64, 0, 36, 1563);
  chartIn(c, R, {type: 'bar',
    data: {labels: targetCats, datasets: [
      {label: '销售目标', data: targetGoal, backgroundColor: LB, barPercentage: 0.6, categoryPercentage: 1, pointStyle: 'rectRounded'},
      {label: '销售额', data: targetSales, backgroundColor: BL, barPercentage: 0.6, categoryPercentage: 1, pointStyle: 'rectRounded'}]},
    options: {indexAxis: 'y', layout: {padding: P.o}, plugins: {legend: LEG()},
      scales: {x: xAxis(36, 14, {stacked: true, min: 0, max: 1500000, ticks: {stepSize: 300000, callback: v => Number(v).toLocaleString('en-US')}}),
        y: yCat(64, 14, {stacked: true, ticks: {display: false}})}},
    plugins: [gapPlugin(P.gap), rotLabelPlugin]});
});

// ---------- 线图/面积图 ----------
safe(() => {
  const R = [51, 1058, 850, 437], c = card(pA, R, '基础线图');
  chartIn(c, R, {type: 'line',
    data: {labels: months, datasets: [{label: '销售额', data: salesAmount, borderColor: LB, backgroundColor: LB, borderWidth: 2.5, pointStyle: 'rect', pointRadius: 5, tension: 0}]},
    options: {layout: {padding: pads(R, [140, 1114, 854, 1444], 80, 0, 30).o},
      scales: {x: xAxis(30, 15, {offset: true, ticks: {padding: 6, callback: (v, i) => i % 3 === 0 ? months[i] : ''}}),
        y: yAxis(80, 15, {min: 0, max: 150000, ticks: {stepSize: 30000}})}}});
});

safe(() => {
  const R = [52, 1526, 850, 435], c = card(pA, R, '多指标阶梯线图');
  const P = pads(R, [142, 1615, 854, 1912], 80, 0, 30, 1582);
  chartIn(c, R, {type: 'line',
    data: {labels: months, datasets: [
      {label: '销售量', data: salesQty, borderColor: LB, backgroundColor: LB, borderWidth: 2, stepped: 'before', pointStyle: 'circle', pointRadius: 5},
      {label: '销售额', data: salesAmount, borderColor: BL, backgroundColor: BL, borderWidth: 3, stepped: 'before', pointStyle: 'circle', pointRadius: 5}]},
    options: {layout: {padding: P.o}, plugins: {legend: LEG({labels: {font: {size: 15}}})},
      scales: {x: xAxis(30, 15, {offset: true, ticks: {padding: 6, callback: (v, i) => i % 3 === 0 ? months[i] : ''}}),
        y: yAxis(80, 15, {min: 0, max: 150000, ticks: {stepSize: 30000}})}},
    plugins: [gapPlugin(P.gap)]});
});

safe(() => {
  const R = [51, 1987, 1284, 435], c = card(pA, R, '极坐标线图');
  const bands = polarLineValues.length;
  const pts = polarLineValues.map((v, i) => {
    const th = v / polarLineMax * 2 * Math.PI, r = i + 0.5;
    return {x: r * Math.sin(th), y: r * Math.cos(th)};
  });
  chartIn(c, R, {type: 'line',
    data: {datasets: [{data: pts, borderColor: BL, backgroundColor: BL, borderWidth: 2, tension: 0.4, pointStyle: 'rect', pointRadius: 3.5}]},
    options: {layout: {padding: pads(R, [532, 2068, 852, 2388], 0, 0, 0).o},
      scales: {x: {type: 'linear', min: -bands, max: bands, display: false}, y: {type: 'linear', min: -bands, max: bands, display: false}}},
    plugins: [polarLinePlugin]});
});

safe(() => {
  const R = [1375, 1987, 1291, 435], c = card(pA, R, '多指标堆积面积图');
  chartIn(c, R, {type: 'line',
    data: {labels: months, datasets: [
      {label: '销售额', data: salesAmount, fill: 'origin', backgroundColor: 'rgba(102,200,255,0.65)', borderColor: LB, borderWidth: 2.5, tension: 0.4, pointStyle: 'rect', pointRadius: 3},
      {label: '利润', data: profitAmount, fill: '-1', backgroundColor: 'rgba(50,111,254,0.68)', borderColor: BL, borderWidth: 2.5, tension: 0.4, pointStyle: 'rect', pointRadius: 3}]},
    options: {layout: {padding: pads(R, [1465, 2089, 2614, 2358], 70, 0, 30).o},
      scales: {x: xAxis(30, 13, {offset: true, ticks: {padding: 6, callback: (v, i) => i % 2 === 0 ? months[i] : ''}}),
        y: yAxis(70, 13, {stacked: true, min: 0, max: 350000, ticks: {stepSize: 50000}})}},
    plugins: [pinPlugin]});
});
</script>
</body>
</html>
